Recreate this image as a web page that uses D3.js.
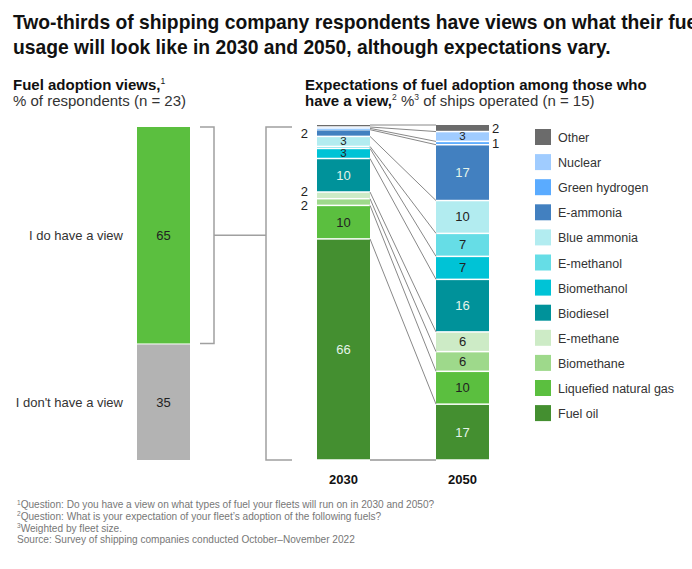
<!DOCTYPE html>
<html><head><meta charset="utf-8">
<script src="https://cdn.jsdelivr.net/npm/d3@7"></script>
<style>
html,body{margin:0;padding:0;background:#fff;}
svg{display:block;font-family:"Liberation Sans",Arial,sans-serif;}
</style></head>
<body><svg id="c" width="692" height="569"></svg>
<script>
// ---- data ----
const viewCategories = ["I do have a view", "I don't have a view"];
const viewValues = [65, 35];
const viewColors = ["#5bbf3f", "#b3b3b3"];

const fuels = ["Other","Nuclear","Green hydrogen","E-ammonia","Blue ammonia","E-methanol","Biomethanol","Biodiesel","E-methane","Biomethane","Liquefied natural gas","Fuel oil"];
const fuelColors = ["#6b6b6b","#a0ccff","#5aabff","#4280c0","#b2ecf0","#66dde6","#00c3d6","#00929a","#cdebc6","#9ed98b","#5bbf3f","#448f30"];
const years = ["2030","2050"];
const values2030 = [0.6,0.4,0.4,2,3,0.6,3,10,2,2,10,66];
const values2050 = [2,3,1,17,10,7,7,16,6,6,10,17];
const labels2030 = [null,null,null,"2","3",null,"3","10","2","2","10","66"];
const labels2050 = ["2","3","1","17","10","7","7","16","6","6","10","17"];
const labelPos2030 = [null,null,null,"out","in",null,"in","in","out","out","in","in"];
const labelPos2050 = ["out","in","out","in","in","in","in","in","in","in","in","in"];
const lightText = ["E-ammonia","Biodiesel","Fuel oil"];

const svg = d3.select("#c");

// ---- titles ----
svg.append("text").attr("x",13).attr("y",29).attr("font-size",19.3).attr("font-weight","bold").attr("fill","#111")
  .text("Two-thirds of shipping company respondents have views on what their fuel");
svg.append("text").attr("x",13).attr("y",54).attr("font-size",19.3).attr("font-weight","bold").attr("fill","#111")
  .text("usage will look like in 2030 and 2050, although expectations vary.");

const h1 = svg.append("text").attr("x",13).attr("y",90).attr("font-size",15).attr("fill","#111");
h1.append("tspan").attr("font-weight","bold").text("Fuel adoption views,");
h1.append("tspan").attr("font-size",8.5).attr("dy",-6).text("1");
svg.append("text").attr("x",13).attr("y",106).attr("font-size",15).attr("fill","#333").text("% of respondents (n = 23)");

svg.append("text").attr("x",305).attr("y",90).attr("font-size",15).attr("font-weight","bold").attr("fill","#111")
  .text("Expectations of fuel adoption among those who");
const h2 = svg.append("text").attr("x",305).attr("y",106).attr("font-size",15).attr("fill","#333");
h2.append("tspan").attr("font-weight","bold").attr("fill","#111").text("have a view,");
h2.append("tspan").attr("font-size",8.5).attr("dy",-6).text("2");
h2.append("tspan").attr("dy",6).text(" %");
h2.append("tspan").attr("font-size",8.5).attr("dy",-6).text("3");
h2.append("tspan").attr("dy",6).text(" of ships operated (n = 15)");

// ---- left bar ----
const yL = d3.scaleLinear().domain([0,100]).range([127,460]);
let cum = 0;
const leftSegs = viewValues.map((v,i)=>{const s={v,i,y0:cum,y1:cum+v};cum+=v;return s;});
const barL = {x:137,w:53};
svg.selectAll("rect.left").data(leftSegs).join("rect")
  .attr("x",barL.x).attr("width",barL.w)
  .attr("y",d=>yL(d.y0)+(d.i>0?1:0)).attr("height",d=>yL(d.y1)-yL(d.y0)-(d.i>0?1:0))
  .attr("fill",d=>viewColors[d.i]);
svg.selectAll("text.lv").data(leftSegs).join("text")
  .attr("x",barL.x+barL.w/2).attr("y",d=>(yL(d.y0)+yL(d.y1))/2+5)
  .attr("text-anchor","middle").attr("font-size",13).attr("fill","#222").text(d=>d.v);
svg.selectAll("text.lc").data(leftSegs).join("text")
  .attr("x",123).attr("y",d=>(yL(d.y0)+yL(d.y1))/2+5)
  .attr("text-anchor","end").attr("font-size",13).attr("fill","#333").text(d=>viewCategories[d.i]);

// ---- brackets ----
const bc = "#a0a0a0";
const b1top = yL(0), b1bot = yL(viewValues[0]);
svg.append("path").attr("fill","none").attr("stroke",bc).attr("stroke-width",1.5)
  .attr("d",`M200,${b1top}H214V${b1bot}H200`);
svg.append("path").attr("fill","none").attr("stroke",bc).attr("stroke-width",1.5)
  .attr("d",`M214,${(b1top+b1bot)/2}H266`);
svg.append("path").attr("fill","none").attr("stroke",bc).attr("stroke-width",1.5)
  .attr("d",`M292,${yL(0)}H266V${yL(100)}H292`);

// ---- right stacked bars ----
const xB = d3.scalePoint().domain(years).range([317,436]);
const bw = 53;
function stackOf(vals){
  const total = d3.sum(vals);
  const y = d3.scaleLinear().domain([0,total]).range([125,460]);
  let c=0;
  return {y, segs: vals.map((v,i)=>{const s={i,v,y0:c,y1:c+v};c+=v;return s;})};
}
const st = {"2030":stackOf(values2030),"2050":stackOf(values2050)};
const labs = {"2030":labels2030,"2050":labels2050};
const lpos = {"2030":labelPos2030,"2050":labelPos2050};

// connectors
const x30r = xB("2030")+bw, x50l = xB("2050");
const conn = fuels.map((f,i)=>({y0:st["2030"].y(st["2030"].segs[i].y0), y1:st["2050"].y(st["2050"].segs[i].y0)}));
conn.push({y0:st["2030"].y(d3.sum(values2030)), y1:st["2050"].y(d3.sum(values2050)), bottom:true});
svg.selectAll("line.conn").data(conn).join("line")
  .attr("x1",x30r).attr("x2",x50l).attr("y1",d=>d.y0).attr("y2",d=>d.y1)
  .attr("stroke",d=>d.bottom?"#b0b0b0":"#888").attr("stroke-width",d=>d.bottom?2:1);

years.forEach(yr=>{
  const {y,segs} = st[yr];
  const g = svg.append("g");
  g.selectAll("rect").data(segs).join("rect")
    .attr("x",xB(yr)).attr("width",bw)
    .attr("y",d=>y(d.y0)+(d.i>0?0.75:0)).attr("height",d=>Math.max(0.6,y(d.y1)-y(d.y0)-(d.i>0?0.75:0)-0.75))
    .attr("fill",d=>fuelColors[d.i]);
  // label positions, spreading outside labels apart
  const lab = segs.filter(d=>labs[yr][d.i]).map(d=>({d, out:lpos[yr][d.i]!=="in", cy:(y(d.y0)+y(d.y1))/2, h:y(d.y1)-y(d.y0)}));
  const outs = lab.filter(l=>l.out);
  for(let k=1;k<outs.length;k++){
    const gap = outs[k].cy - outs[k-1].cy;
    if(gap < 13.5){ const p=(13.5-gap)/2; outs[k-1].cy-=p; outs[k].cy+=p; }
  }
  g.selectAll("text").data(lab).join("text")
    .attr("x",l=>!l.out?xB(yr)+bw/2:(yr==="2030"?xB(yr)-9:xB(yr)+bw+3))
    .attr("y",l=>l.cy+(l.out?4.5:(l.h<12?4:4.5)))
    .attr("text-anchor",l=>!l.out?"middle":(yr==="2030"?"end":"start"))
    .attr("font-size",l=>(!l.out&&l.h<12)?11.5:13)
    .attr("fill",l=>!l.out&&lightText.includes(fuels[l.d.i])?"#e4f4ea":"#222")
    .text(l=>labs[yr][l.d.i]);
  svg.append("text").attr("x",xB(yr)+bw/2).attr("y",484).attr("text-anchor","middle")
    .attr("font-size",13).attr("font-weight","bold").attr("fill","#111").text(yr);
});

// ---- legend ----
const lg = svg.append("g");
lg.selectAll("rect").data(fuels).join("rect")
  .attr("x",535).attr("y",(d,i)=>129+i*25.1).attr("width",16).attr("height",16)
  .attr("fill",(d,i)=>fuelColors[i]);
lg.selectAll("text").data(fuels).join("text")
  .attr("x",558).attr("y",(d,i)=>142+i*25.1).attr("font-size",12.5).attr("fill","#333").text(d=>d);

// ---- footnotes ----
const notes = [["1","Question: Do you have a view on what types of fuel your fleets will run on in 2030 and 2050?"],
               ["2","Question: What is your expectation of your fleet’s adoption of the following fuels?"],
               ["3","Weighted by fleet size."],
               [""," Source: Survey of shipping companies conducted October–November 2022"]];
notes.forEach((n,i)=>{
  const t = svg.append("text").attr("x",17).attr("y",508+i*11.8).attr("font-size",10.1).attr("fill","#777");
  if(n[0]) t.append("tspan").attr("font-size",6.5).attr("dy",-3.5).text(n[0]);
  t.append("tspan").attr("dy",n[0]?3.5:0).text(n[1]);
});
</script></body></html>
